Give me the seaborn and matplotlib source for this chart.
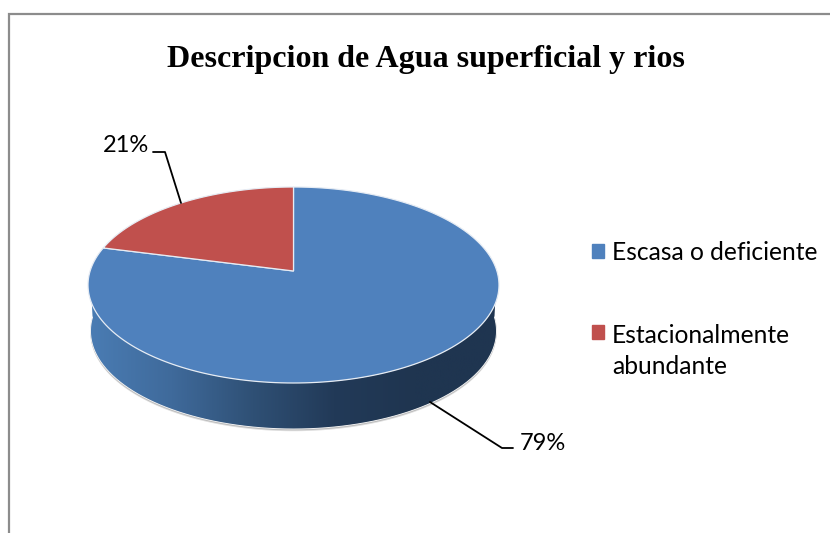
# plot.py
# pie with a fake 3D look, seaborn has no pie so use ax.pie for the slices
# and bend them with a perspective map afterwards

import numpy as np
import seaborn as sns
import matplotlib.pyplot as plt
from matplotlib.colors import LinearSegmentedColormap
from matplotlib.patches import Patch, PathPatch
from matplotlib.path import Path

categories = ["Escasa o deficiente", "Estacionalmente\nabundante"]
shares = [79, 21]
title_text = "Descripcion de Agua superficial y rios"

BLUE = "#4f81bd"
RED = "#c0504d"

# geometry of the disc in pixels
CX, CY = 293.5, 285.0
RX, RY = 205.5, 98.0
APEX_LIFT = 14.0
DEPTH = 46.0
BASE_SHRINK = 0.988


def project(theta_deg):
    """Map angles on the flat pie to pixel positions on the tilted disc."""
    t = np.radians(theta_deg)
    c = APEX_LIFT / RY
    d = RX * np.sqrt(1 - c ** 2)
    den = 1 + c * np.sin(t)
    x = d * np.cos(t) / den
    y = (RY * np.sin(t) + APEX_LIFT) / den
    return CX + x, CY - y


sns.set_theme(style="white")
plt.rcParams["font.family"] = ["Lato", "DejaVu Sans"]

fig = plt.figure(figsize=(8.3, 5.33), dpi=100)
ax = fig.add_axes([0, 0, 1, 1])

# pie only gives the angles, the shapes get rebuilt below
wedges, _ = ax.pie(shares, startangle=90, counterclock=False, colors=[BLUE, RED])
slices = [(w.theta1, w.theta2, w.get_facecolor()) for w in wedges]
for w in wedges:
    w.remove()

ax.set_aspect("auto")
ax.set_xlim(0, 830)
ax.set_ylim(533, 0)
ax.axis("off")

# frame, open on the right and at the bottom like the picture
ax.plot([9, 9, 830], [533, 14, 14], color="#8c8c8c", lw=1.6, solid_joinstyle="miter")

# side wall
rim_t = np.linspace(0, 360, 361)
rim_x, rim_y = project(rim_t)
base_x = CX + (rim_x - CX) * BASE_SHRINK
base_y = rim_y + DEPTH

# soft shadow below the wall
ax.fill(base_x, base_y + 2.2, color="#dcdcdc", lw=0)
ax.fill(base_x, base_y + 1.2, color="#b0b0b0", lw=0)

wall_cmap = LinearSegmentedColormap.from_list(
    "wall", ["#4a7cb3", "#3f6a9b", "#2f5075", "#223a58", "#1f3550", "#1f3550"]
)
side = ax.imshow(
    np.linspace(0, 1, 256).reshape(1, -1),
    cmap=wall_cmap,
    extent=[base_x.min(), base_x.max(), 440, 280],
    aspect="auto",
    zorder=2,
)
ax.set_xlim(0, 830)
ax.set_ylim(533, 0)

low = rim_t[(rim_t >= 180) & (rim_t <= 360)]
lx, ly = project(low)
bx = CX + (lx - CX) * BASE_SHRINK
by = ly + DEPTH
wall_verts = np.column_stack(
    [np.concatenate([lx, bx[::-1], lx[:1]]), np.concatenate([ly, by[::-1], ly[:1]])]
)
clip = PathPatch(Path(wall_verts), transform=ax.transData, fc="none", ec="none")
ax.add_patch(clip)
side.set_clip_path(clip)
ax.plot(bx, by, color="#f2f2f2", lw=0.7, zorder=2.5)

# top of the disc
apex_x, apex_y = CX, CY - APEX_LIFT
for theta1, theta2, colour in slices:
    x, y = project(np.linspace(theta1, theta2, 200))
    ax.fill(
        np.concatenate([[apex_x], x]),
        np.concatenate([[apex_y], y]),
        color=colour,
        ec="#e6ecf4",
        lw=0.9,
        zorder=3,
    )

# leader lines and percent labels
ax.plot([153, 165, 181], [152, 152, 203], color="black", lw=1.3, zorder=4)
ax.plot([430, 502, 513], [402, 448, 448], color="black", lw=1.3, zorder=4)
ax.text(125.5, 146, f"{shares[1]}%", fontsize=17, ha="center", va="center", color="black")
ax.text(542.5, 443, f"{shares[0]}%", fontsize=17, ha="center", va="center", color="black")

ax.text(
    426,
    59,
    title_text,
    fontsize=23,
    fontweight="bold",
    family=["Liberation Serif"],
    ha="center",
    va="center",
    color="black",
)

handles = [Patch(color=BLUE), Patch(color=RED)]
leg = ax.legend(
    handles,
    categories,
    loc="upper left",
    bbox_to_anchor=(570 / 830, 1 - 219 / 533),
    frameon=False,
    fontsize=17.7,
    handlelength=0.488,
    handleheight=0.488,
    handletextpad=0.325,
    labelspacing=2.43,
    labelcolor="black",
)
for label in leg.get_texts():
    label.set_linespacing(1.45)
# second marker sits on the first text line, not between the two
leg.get_patches()[1].set_y(15.5)

fig.savefig("out.png", dpi=100, facecolor="white")
